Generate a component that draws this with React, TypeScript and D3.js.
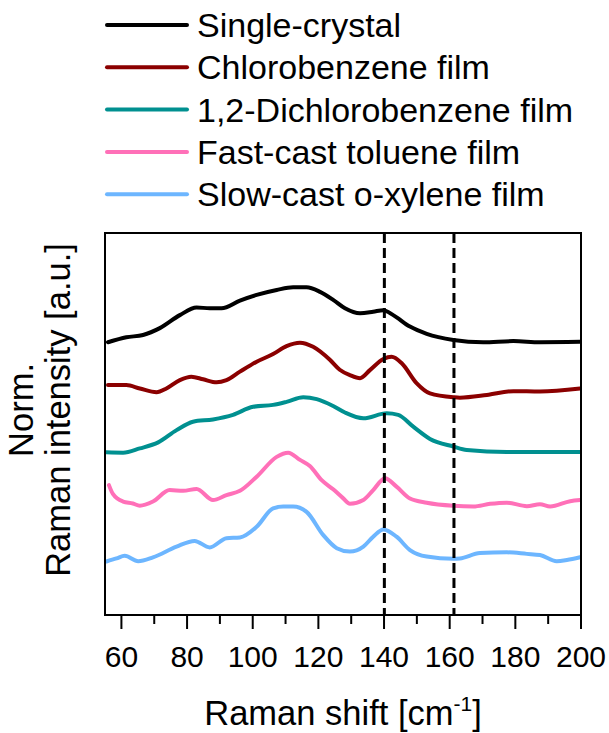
import React from "react";
import * as d3 from "d3";

type Pt = [number, number];

const seriesNames = [
  "Single-crystal",
  "Chlorobenzene film",
  "1,2-Dichlorobenzene film",
  "Fast-cast toluene film",
  "Slow-cast o-xylene film",
];
const seriesColors = ["#000000", "#8b0000", "#009090", "#ff70b8", "#6db6ff"];

const singleCrystal: Pt[] = [
  [55.9, 7.14], [61.5, 7.27], [66.6, 7.33], [71.7, 7.51], [77.8, 7.85], [82.9, 8.05],
  [86.9, 8.03], [90.5, 8.03], [96.1, 8.23], [101.2, 8.38], [107.3, 8.51], [112.3, 8.58],
  [116.4, 8.58], [120.5, 8.46], [124.5, 8.25], [128.1, 8.03], [132.7, 7.9], [136.7, 7.94],
  [139.8, 7.98], [142.8, 7.85], [147.9, 7.55], [153.0, 7.36], [161.1, 7.2], [170.2, 7.14],
  [179.4, 7.17], [187.5, 7.14], [199.7, 7.15],
];
const chlorobenzene: Pt[] = [
  [55.9, 6.02], [61.5, 6.02], [65.6, 5.93], [70.7, 5.83], [73.7, 5.93], [77.8, 6.15],
  [81.3, 6.24], [84.9, 6.17], [89.0, 6.09], [92.0, 6.15], [96.1, 6.37], [101.2, 6.63],
  [106.2, 6.83], [110.3, 7.04], [114.4, 7.13], [118.4, 7.02], [123.5, 6.68], [126.5, 6.42],
  [129.6, 6.28], [132.7, 6.2], [135.7, 6.41], [139.8, 6.7], [142.3, 6.76], [145.4, 6.59],
  [149.9, 6.07], [154.0, 5.8], [161.1, 5.7], [163.1, 5.69], [171.3, 5.76], [179.4, 5.86],
  [187.5, 5.85], [199.7, 5.93],
];
const dichlorobenzene: Pt[] = [
  [55.4, 4.26], [60.5, 4.25], [65.6, 4.36], [71.2, 4.52], [76.8, 4.84], [81.8, 5.06],
  [87.9, 5.12], [94.0, 5.24], [100.1, 5.45], [106.2, 5.5], [110.3, 5.58], [115.4, 5.7],
  [119.5, 5.65], [124.5, 5.47], [128.1, 5.3], [133.7, 5.15], [140.8, 5.28], [144.3, 5.24],
  [148.9, 4.93], [154.0, 4.61], [161.1, 4.41], [165.2, 4.32], [177.4, 4.27], [199.7, 4.27],
];
const fastToluene: Pt[] = [
  [56.2, 3.4], [57.4, 3.17], [60.5, 2.97], [63.5, 2.92], [65.6, 2.86], [69.6, 2.97],
  [74.7, 3.27], [78.8, 3.25], [82.9, 3.3], [87.9, 3.01], [92.0, 3.14], [96.1, 3.25],
  [101.2, 3.62], [107.3, 4.14], [110.8, 4.25], [114.4, 4.06], [117.4, 3.9], [121.0, 3.53],
  [124.5, 3.29], [127.5, 3.06], [129.6, 2.91], [133.7, 3.01], [136.7, 3.27], [140.3, 3.58],
  [143.8, 3.36], [147.9, 3.05], [153.0, 2.94], [161.1, 2.86], [167.2, 2.84], [172.3, 2.91],
  [177.4, 2.94], [183.5, 2.85], [187.5, 2.9], [190.6, 2.84], [196.7, 2.98], [199.7, 3.01],
];
const slowXylene: Pt[] = [
  [55.4, 1.4], [58.5, 1.48], [61.0, 1.55], [65.1, 1.41], [69.6, 1.51], [76.8, 1.79],
  [82.3, 1.94], [86.9, 1.77], [92.0, 2.01], [96.1, 2.03], [101.2, 2.31], [106.2, 2.79],
  [109.3, 2.84], [112.3, 2.84], [116.4, 2.7], [121.5, 2.09], [125.6, 1.75], [129.6, 1.66],
  [133.7, 1.79], [136.7, 2.05], [139.8, 2.24], [143.8, 2.05], [147.9, 1.7], [153.0, 1.53],
  [161.1, 1.47], [163.1, 1.48], [169.2, 1.62], [177.4, 1.64], [183.5, 1.6], [187.5, 1.57],
  [192.6, 1.41], [195.7, 1.44], [199.7, 1.51],
];
const seriesData = [singleCrystal, chlorobenzene, dichlorobenzene, fastToluene, slowXylene];

const majorTicks = [60, 80, 100, 120, 140, 160, 180, 200];
const minorTicks = [70, 90, 110, 130, 150, 170, 190];
const markerLines = [140.1, 161.3];

const W = 609;
const H = 733;
const M = { left: 105, right: 581, top: 233, bottom: 615 };

export default function App() {
  const x = d3.scaleLinear().domain([55, 200]).range([M.left, M.right]);
  const y = d3.scaleLinear().domain([0, 10]).range([M.bottom, M.top]);
  const line = d3
    .line<Pt>()
    .x((d) => x(d[0]))
    .y((d) => y(d[1]))
    .curve(d3.curveMonotoneX);

  const font = "'Liberation Sans', Arial, sans-serif";
  const legendY0 = 25;
  const legendDy = 42.3;

  return (
    <svg
      width={W}
      height={H}
      style={{ position: "absolute", left: 0, top: 0 }}
      fontFamily={font}
    >
      <rect x={0} y={0} width={W} height={H} fill="#fff" />
      {/* legend */}
      {seriesNames.map((n, i) => (
        <g key={n}>
          <line
            x1={107}
            x2={187}
            y1={legendY0 + i * legendDy}
            y2={legendY0 + i * legendDy}
            stroke={seriesColors[i]}
            strokeWidth={4}
            strokeLinecap="round"
          />
          <text
            x={197}
            y={legendY0 + i * legendDy + 12}
            fontSize={34}
            fill="#000"
          >
            {n}
          </text>
        </g>
      ))}
      {/* data */}
      <g>
        {seriesData.map((d, i) => (
          <path
            key={i}
            d={line(d) || ""}
            fill="none"
            stroke={seriesColors[i]}
            strokeWidth={4}
            strokeLinejoin="round"
            strokeLinecap="round"
          />
        ))}
      </g>
      {/* dashed markers */}
      {markerLines.map((v) => (
        <line
          key={v}
          x1={x(v)}
          x2={x(v)}
          y1={M.top}
          y2={M.bottom}
          stroke="#000"
          strokeWidth={3}
          strokeDasharray="10,5"
        />
      ))}
      {/* frame */}
      <rect
        x={M.left}
        y={M.top}
        width={M.right - M.left}
        height={M.bottom - M.top}
        fill="none"
        stroke="#000"
        strokeWidth={2}
      />
      {/* ticks */}
      {majorTicks.map((t) => (
        <g key={t}>
          <line x1={x(t)} x2={x(t)} y1={M.bottom} y2={M.bottom + 14} stroke="#000" strokeWidth={2} />
          <text x={x(t)} y={667} fontSize={30} textAnchor="middle" fill="#000">
            {t}
          </text>
        </g>
      ))}
      {minorTicks.map((t) => (
        <line key={t} x1={x(t)} x2={x(t)} y1={M.bottom} y2={M.bottom + 9} stroke="#000" strokeWidth={2} />
      ))}
      {/* axis titles */}
      <text x={(M.left + M.right) / 2} y={725} fontSize={34.5} textAnchor="middle" fill="#000">
        Raman shift [cm
        <tspan fontSize={21} dy={-14}>-1</tspan>
        <tspan dy={14}>]</tspan>
      </text>
      <g transform={`translate(0, 410) rotate(-90)`}>
        <text x={0} y={33} fontSize={34.5} textAnchor="middle" fill="#000">
          Norm.
        </text>
        <text x={0} y={70} fontSize={34.5} textAnchor="middle" fill="#000">
          Raman intensity [a.u.]
        </text>
      </g>
    </svg>
  );
}
